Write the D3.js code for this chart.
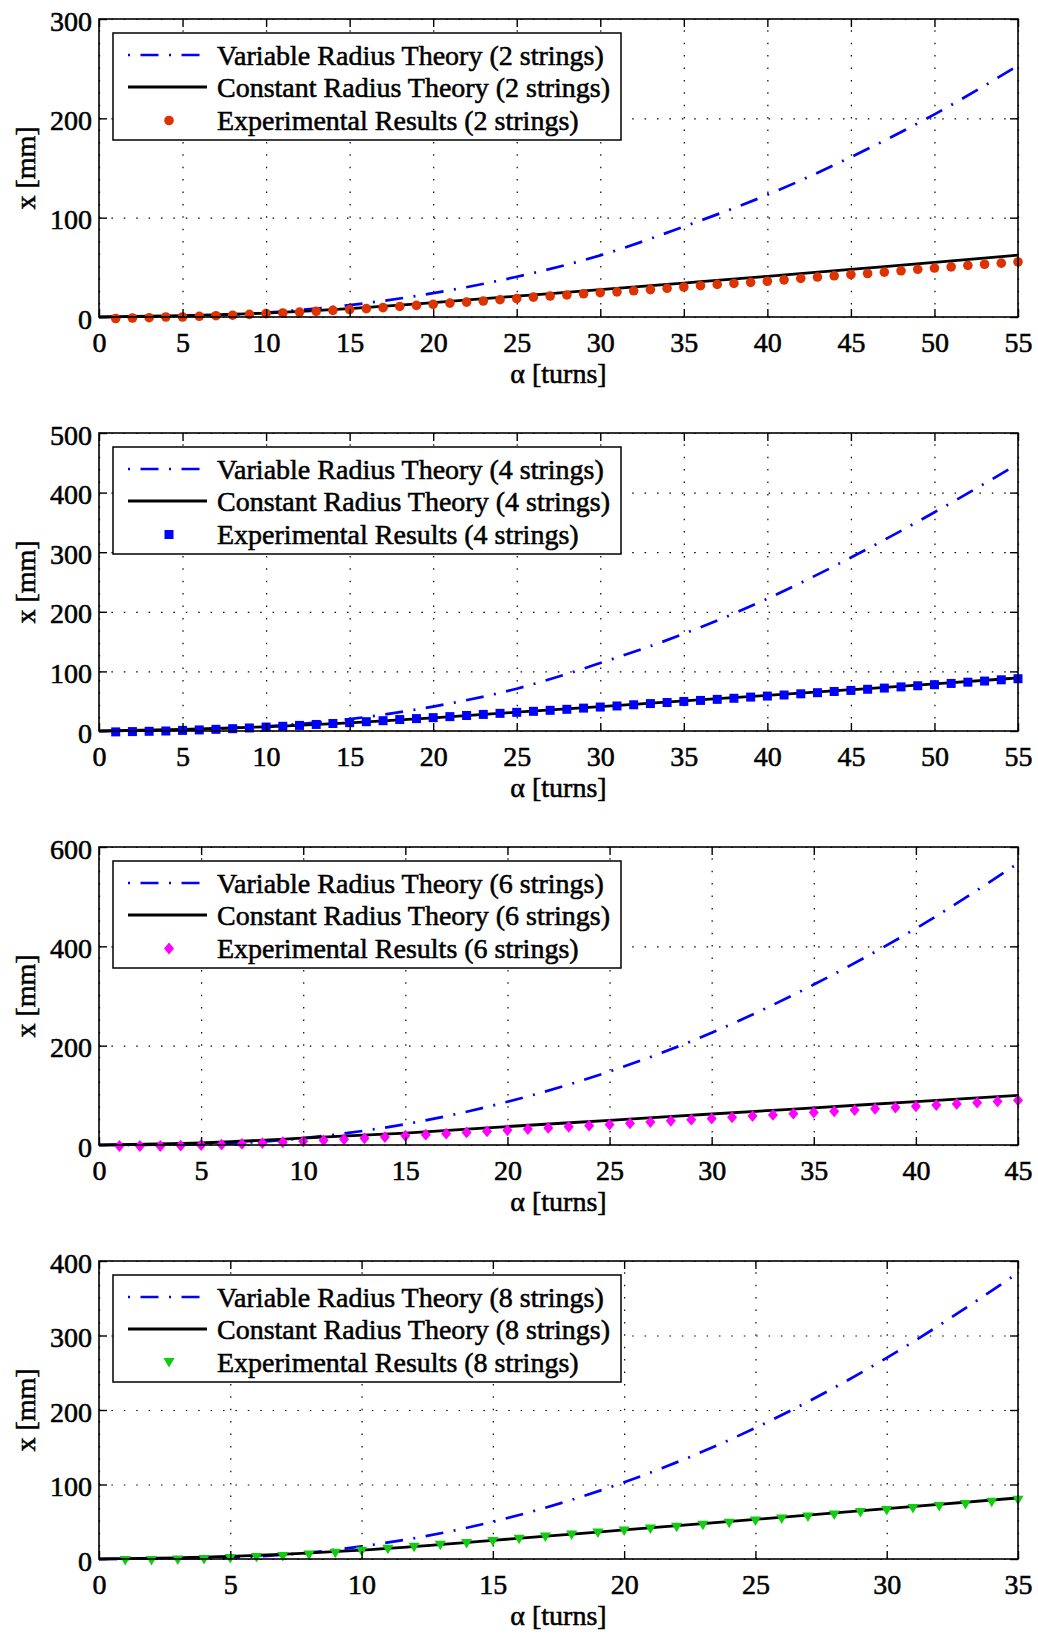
<!DOCTYPE html>
<html lang="en">
<head>
<meta charset="utf-8">
<title>Displacement vs turns</title>
<script src="https://cdn.jsdelivr.net/npm/d3@7"></script>
<style>
    body { margin: 0; background: #fff; }
    svg text {
        font-family: "Liberation Serif", "Times New Roman", serif;
        font-size: 28px;
        fill: #000;
        stroke: #000;
        stroke-width: 0.55px;
    }
    .grid line { stroke: #000; stroke-width: 1.2; stroke-dasharray: 1.5, 10.9; }
    .grid .domain { display: none; }
    .ax .domain { display: none; }
    .ax line { stroke: #000; stroke-width: 1.4; }
</style>
</head>
<body>
<div id="chart"></div>
<script>

//_____________________________DATA_____________________________

var stringCounts = [2, 4, 6, 8];
var turnMax = [55, 55, 45, 35];
var mmMax = [300, 500, 600, 400];
var turnTicks = [
    [0, 5, 10, 15, 20, 25, 30, 35, 40, 45, 50, 55],
    [0, 5, 10, 15, 20, 25, 30, 35, 40, 45, 50, 55],
    [0, 5, 10, 15, 20, 25, 30, 35, 40, 45],
    [0, 5, 10, 15, 20, 25, 30, 35]
];
var mmTicks = [
    [0, 100, 200, 300],
    [0, 100, 200, 300, 400, 500],
    [0, 200, 400, 600],
    [0, 100, 200, 300, 400]
];

// variable radius theory  [turns, mm]
var variable2 = [[0,0],[5,0.8],[10,4.5],[15,12],[20,24],[25,40.5],[30,62],[35,91],[40,123],[45,161],[50,204],[55,253]];
var variable4 = [[0,0],[5,2],[10,8],[15,20],[20,41],[25,71],[30,114],[35,163],[40,222],[45,291],[50,367],[55,448]];
var variable6 = [[0,0],[5,1.3],[10,13.8],[15,42],[20,87],[25,148],[30,226],[35,323],[40,436],[45,567]];
var variable8 = [[0,0],[5,2],[10,17],[15,50],[20,103],[25,176],[30,270],[35,384]];

// constant radius theory  [turns, mm]
var constant2 = [[0,0],[5,1.3],[10,4],[15,8.5],[20,14.5],[25,21],[30,27.5],[35,34.2],[40,41],[45,48],[50,55],[55,62.2]];
var constant4 = [[0,0],[5,2.5],[10,7],[15,13.5],[20,22],[25,31.5],[30,41],[35,50.5],[40,59.8],[45,69.3],[50,79],[55,89]];
var constant6 = [[0,0],[5,4],[10,14],[15,24],[20,37.2],[25,49.7],[30,62.4],[35,74.9],[40,87.4],[45,99.9]];
var constant8 = [[0,0],[5,3.5],[10,12],[15,25],[20,39],[25,53.2],[30,67.5],[35,82]];

// experimental results, one value per turn starting at turn 1  [mm]
var experimental2 = [-1.5,-1,-0.7,0,0,0.7,1.3,1.8,2.6,3.4,4.1,5,5.8,6.7,7.5,8.4,9.4,10.6,11.7,12.8,
    14,15,16.1,17.4,18.6,20,21.1,22.2,23.4,24.5,25.3,26.4,27.6,28.9,30.2,31.5,32.8,33.8,34.9,36,
    37.4,38.8,40.2,41.5,42.7,43.8,45.2,46.5,48,49.3,50.5,51.9,53.1,54.2,55.4];
var experimental4 = [-1.5,-1,-0.5,0,1,1.8,2.8,3.9,5.1,6.6,7.9,9.4,11,12.6,14,15.6,17.3,19.2,20.8,22.4,
    24.1,26,27.8,29.6,31.3,33,34.7,36.4,38.4,40.2,42,44,46,47.8,49.6,51.3,53.1,54.9,56.9,58.6,
    60.4,62.4,64.3,66.3,68.1,70,72,74,75.9,77.7,79.8,81.9,83.8,85.9,87.7];
var experimental6 = [-2,-2,-2,-1.2,0,0.8,2.1,3.9,5.5,7.4,9.4,11.4,13.5,16,18.6,20.7,22.9,25.3,27.5,29.7,
    32.1,34.3,36.7,38.9,41.1,43.6,46.2,48.7,51,53.2,55.7,58.2,60.5,63,65.6,67.9,70.4,73,75.3,77.9,
    80.4,82.7,85.2,87.7,89.9];
var experimental8 = [-2,-2,-1.6,-0.8,0.4,1.8,3.2,5.3,7.6,10.2,12.9,15.6,18.2,20.6,23.2,26.5,29.4,32.1,34.8,37.5,
    40,42.5,45.1,47.9,50.8,53.5,56.2,58.9,62.2,65,67.6,70.3,73,75.9,78.6];

var variableSets = [variable2, variable4, variable6, variable8];
var constantSets = [constant2, constant4, constant6, constant8];
var experimentalSets = [experimental2, experimental4, experimental6, experimental8];
var markerKinds = ["circle", "square", "diamond", "triangle"];
var markerColors = ["#dc3300", "#0000ff", "#ff00ff", "#11cc11"];

//_____________________________LAYOUT_____________________________

var width = 1038;
var height = 1634;
var left = 99, right = 1018;
var plotH = 298;
var firstTop = 19, panelStep = 414;
var dashDot = "18,10.5,2,10.5";

var svg = d3.select("#chart")
    .append("svg")
    .attr("width", width)
    .attr("height", height);

// draw a marker centred on 0,0
function drawMarker(sel, kind, color) {
    if (kind == "circle") {
        sel.append("circle").attr("r", 4.8).attr("fill", color);
    } else if (kind == "square") {
        sel.append("rect").attr("x", -4.5).attr("y", -4.5).attr("width", 9).attr("height", 9).attr("fill", color);
    } else if (kind == "diamond") {
        sel.append("path").attr("d", "M0,-5.9L5,0L0,5.9L-5,0Z").attr("fill", color);
    } else {
        sel.append("path").attr("d", "M-5.6,-4.6L5.6,-4.6L0,4.9Z").attr("fill", color);
    }
}

stringCounts.forEach(function(n, i) {
    var top = firstTop + i * panelStep;
    var w = right - left;

    var x = d3.scaleLinear().domain([0, turnMax[i]]).range([0, w]);
    var y = d3.scaleLinear().domain([0, mmMax[i]]).range([plotH, 0]);

    var g = svg.append("g").attr("transform", "translate(" + left + "," + top + ")");

    // dotted grid
    g.append("g").attr("class", "grid")
        .attr("transform", "translate(0," + plotH + ")")
        .call(d3.axisBottom(x).tickValues(turnTicks[i]).tickSize(-plotH).tickFormat(""));
    g.append("g").attr("class", "grid")
        .call(d3.axisLeft(y).tickValues(mmTicks[i]).tickSize(-w).tickFormat(""));

    // theory curves
    var line = d3.line()
        .x(function(d) { return x(d[0]); })
        .y(function(d) { return y(d[1]); })
        .curve(d3.curveMonotoneX);

    g.append("path")
        .datum(variableSets[i])
        .attr("d", line)
        .attr("fill", "none")
        .attr("stroke", "#0000ff")
        .attr("stroke-width", 2.7)
        .attr("stroke-dasharray", dashDot);

    g.append("path")
        .datum(constantSets[i])
        .attr("d", line)
        .attr("fill", "none")
        .attr("stroke", "#000")
        .attr("stroke-width", 2.8);

    // experimental points
    g.append("g").selectAll("g")
        .data(experimentalSets[i])
        .enter().append("g")
        .attr("transform", function(d, k) { return "translate(" + x(k + 1) + "," + y(d) + ")"; })
        .each(function() { drawMarker(d3.select(this), markerKinds[i], markerColors[i]); });

    // axes, ticks pointing inwards on all four sides
    var bottom = g.append("g").attr("class", "ax")
        .attr("transform", "translate(0," + plotH + ")")
        .call(d3.axisBottom(x).tickValues(turnTicks[i]).tickSize(-8));
    bottom.selectAll("text").attr("y", 35).attr("dy", null);

    var leftAx = g.append("g").attr("class", "ax")
        .call(d3.axisLeft(y).tickValues(mmTicks[i]).tickSize(-8));
    leftAx.selectAll("text").attr("x", -7).attr("dy", "11px");

    g.append("g").attr("class", "ax")
        .call(d3.axisTop(x).tickValues(turnTicks[i]).tickSize(-8).tickFormat(""));
    g.append("g").attr("class", "ax")
        .attr("transform", "translate(" + w + ",0)")
        .call(d3.axisRight(y).tickValues(mmTicks[i]).tickSize(-8).tickFormat(""));

    svg.selectAll(".ax").attr("font-size", null).attr("font-family", null);

    g.append("rect")
        .attr("width", w)
        .attr("height", plotH)
        .attr("fill", "none")
        .attr("stroke", "#000")
        .attr("stroke-width", 1.6);

    // axis titles
    g.append("text")
        .attr("x", w / 2)
        .attr("y", plotH + 66)
        .attr("text-anchor", "middle")
        .text("α [turns]");

    g.append("text")
        .attr("transform", "translate(" + (35 - left) + "," + (plotH / 2) + ") rotate(-90)")
        .attr("text-anchor", "middle")
        .text("x [mm]");

    // legend
    var lg = g.append("g").attr("transform", "translate(" + (113 - left) + ",14)");
    lg.append("rect")
        .attr("width", 508)
        .attr("height", 107)
        .attr("fill", "#fff")
        .attr("stroke", "#000")
        .attr("stroke-width", 1.5);

    var rows = [22, 54, 87.5];
    lg.append("line")
        .attr("x1", 15).attr("x2", 94)
        .attr("y1", rows[0]).attr("y2", rows[0])
        .attr("stroke", "#0000ff")
        .attr("stroke-width", 2.7)
        .attr("stroke-dasharray", dashDot)
        .attr("stroke-dashoffset", 28.5);
    lg.append("line")
        .attr("x1", 15).attr("x2", 94)
        .attr("y1", rows[1]).attr("y2", rows[1])
        .attr("stroke", "#000")
        .attr("stroke-width", 2.8);
    drawMarker(lg.append("g").attr("transform", "translate(56," + rows[2] + ")"), markerKinds[i], markerColors[i]);

    var labels = [
        "Variable Radius Theory (" + n + " strings)",
        "Constant Radius Theory (" + n + " strings)",
        "Experimental Results (" + n + " strings)"
    ];
    lg.selectAll("text.lab")
        .data(labels)
        .enter().append("text")
        .attr("class", "lab")
        .attr("x", 104)
        .attr("y", function(d, k) { return rows[k] + 9.5; })
        .text(function(d) { return d; });
});

</script>
</body>
</html>
